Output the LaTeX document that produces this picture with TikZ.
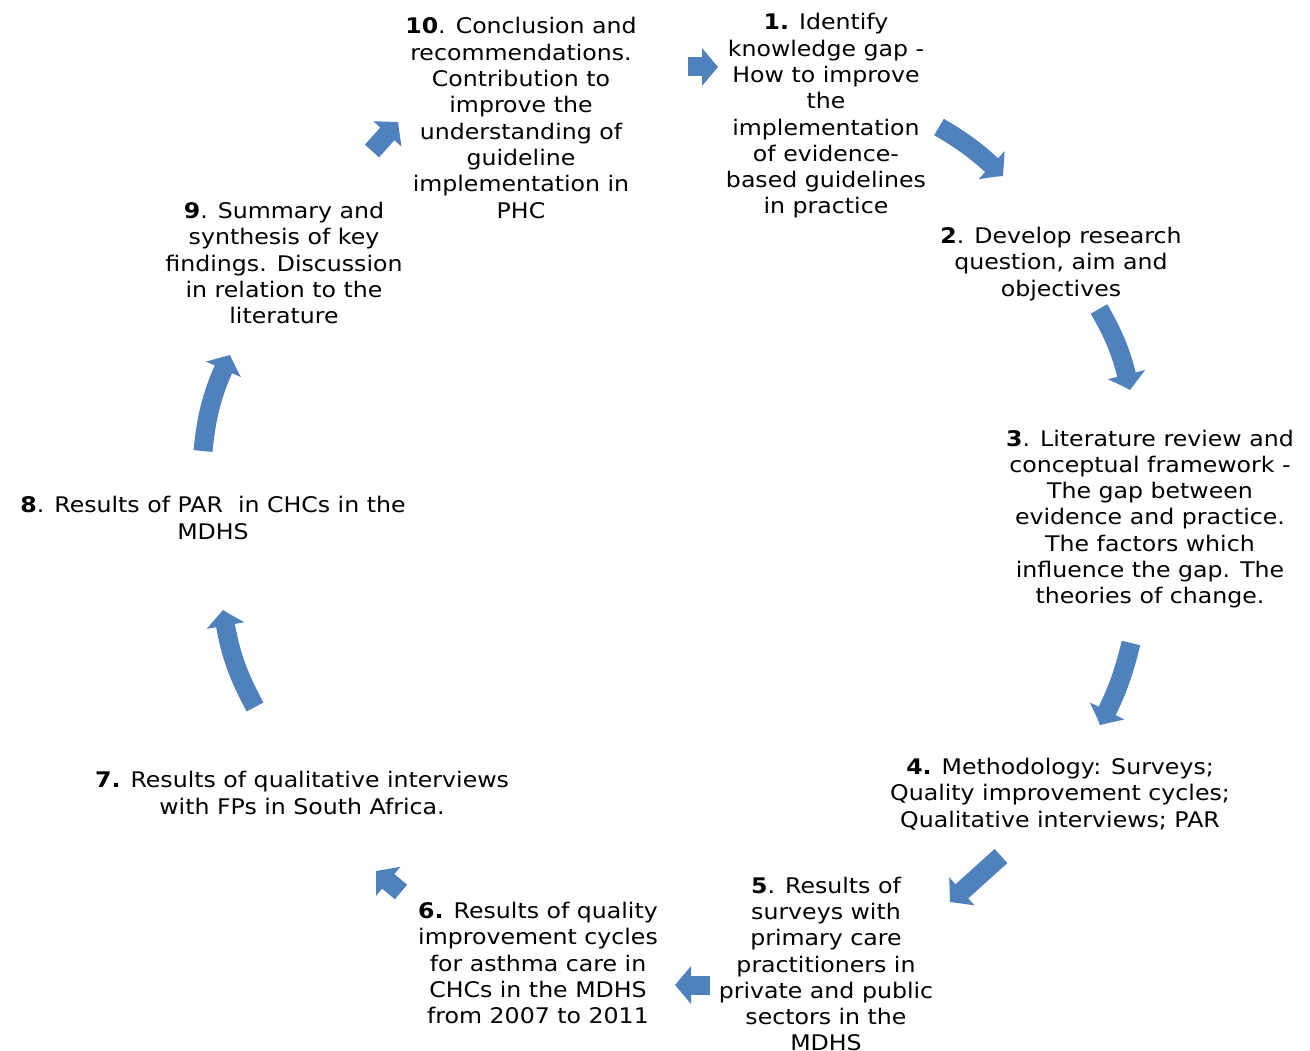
\documentclass[tikz,border=0pt]{standalone}
\usepackage{fontspec}
\setmainfont[FakeStretch=1.1]{DejaVu Sans}
\usetikzlibrary{arrows.meta,bending}
\definecolor{cyc}{HTML}{4F81BD}
\tikzset{
  stage/.style={align=center,inner sep=0pt,font=\fontsize{21.5}{26.3}\selectfont},
  cycarrow/.style={draw=cyc,line width=19pt,line cap=butt,
    -{Triangle[length=16pt,width=37pt,bend]}},
}
\begin{document}
\begin{tikzpicture}[x=1pt,y=-1pt]
\useasboundingbox (0,0) rectangle (1310,1051);
\clip (0,0) rectangle (1310,1051);
\fill[white] (0,0) rectangle (1310,1051);

% stage texts around the cycle
\node[stage] (s10) at (521,118) {\textbf{10}. Conclusion and\\recommendations.\\Contribution to\\improve the\\understanding of\\guideline\\implementation in\\PHC};
\node[stage] (s1) at (826,116) {\textbf{1.} Identify\\knowledge gap -\\How to improve\\the\\implementation\\of evidence-\\based guidelines\\in practice};
\node[stage] (s2) at (1061,264) {\textbf{2}. Develop research\\question, aim and\\objectives};
\node[stage] (s3) at (1150,519) {\textbf{3}. Literature review and\\conceptual framework -\\The gap between\\evidence and practice.\\The factors which\\influence the gap. The\\theories of change.};
\node[stage] (s4) at (1060,794) {\textbf{4.} Methodology: Surveys;\\Quality improvement cycles;\\Qualitative interviews; PAR};
\node[stage] (s5) at (826,964) {\textbf{5}. Results of\\surveys with\\primary care\\practitioners in\\private and public\\sectors in the\\MDHS};
\node[stage] (s6) at (538,963) {\textbf{6.} Results of quality\\improvement cycles\\for asthma care in\\CHCs in the MDHS\\from 2007 to 2011};
\node[stage] (s7) at (302,793) {\textbf{7.} Results of qualitative interviews\\with FPs in South Africa.};
\node[stage] (s8) at (213,518) {\textbf{8}. Results of PAR\ \ in CHCs in the\\MDHS};
\node[stage] (s9) at (284,263) {\textbf{9}. Summary and\\synthesis of key\\findings. Discussion\\in relation to the\\literature};

% arrow end points
\coordinate (a1s) at (688,67);   \coordinate (a1e) at (718,67);
\coordinate (a2s) at (939,127);  \coordinate (a2e) at (1003,176);
\coordinate (a3s) at (1099,309); \coordinate (a3e) at (1130,390);
\coordinate (a4s) at (1131,643); \coordinate (a4e) at (1100,725);
\coordinate (a5s) at (1001,856); \coordinate (a5e) at (950,902);
\coordinate (a6s) at (710,985);  \coordinate (a6e) at (675,985);
\coordinate (a7s) at (401,892);  \coordinate (a7e) at (376,871);
\coordinate (a8s) at (255,707);  \coordinate (a8e) at (223,610);
\coordinate (a9s) at (203,451);  \coordinate (a9e) at (230,355);
\coordinate (a10s) at (372,151); \coordinate (a10e) at (398,122);

% block arrows of the cycle
\draw[cycarrow] (a1s) -- (a1e);
\draw[cycarrow] (a2s) to[bend left=7] (a2e);
\draw[cycarrow] (a3s) to[bend left=9] (a3e);
\draw[cycarrow] (a4s) to[bend left=7] (a4e);
\draw[cycarrow] (a5s) -- (a5e);
\draw[cycarrow] (a6s) -- (a6e);
\draw[cycarrow] (a7s) -- (a7e);
\draw[cycarrow] (a8s) to[bend left=10] (a8e);
\draw[cycarrow] (a9s) to[bend left=10] (a9e);
\draw[cycarrow] (a10s) -- (a10e);
\end{tikzpicture}
\end{document}
